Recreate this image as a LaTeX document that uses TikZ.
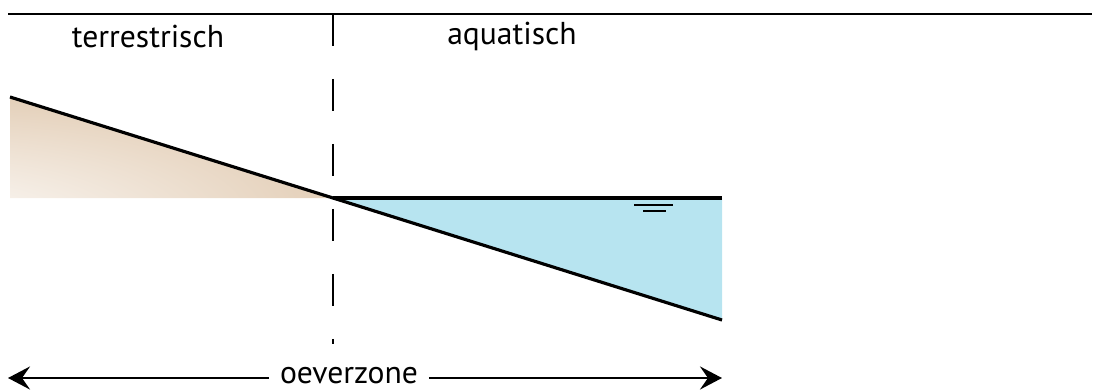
\documentclass[tikz,border=0pt]{standalone}
\usepackage{fontspec}
\setmainfont{PT Sans}
\usetikzlibrary{arrows.meta,positioning}
\definecolor{soilfill}{RGB}{219,192,162}
\definecolor{waterfill}{RGB}{183,228,240}
\pgfdeclareradialshading{soilfade}{\pgfpoint{-50bp}{-50bp}}{%
  color(0bp)=(white); color(8bp)=(white); color(72bp)=(soilfill); color(150bp)=(soilfill)}
\tikzset{
  profile/.style={line width=1.8pt},
  zonelabel/.style={font=\fontsize{18}{20}\selectfont, inner sep=1pt},
  span/.style={-{Stealth[length=4.4mm,width=4.6mm,inset=1.6mm]}, line width=1.7pt}
}
\begin{document}
\begin{tikzpicture}[x=0.02cm, y=-0.02cm]
  \useasboundingbox (0,0) rectangle (1093,392);

  % points of the bank profile
  \coordinate (bankTop) at (10,97);
  \coordinate (bankFoot) at (10,198);
  \coordinate (shore) at (333,198);
  \coordinate (waterEnd) at (722,198);
  \coordinate (bedEnd) at (722,320);

  % fills
  \shade[shading=soilfade] (bankTop) -- (shore) -- (bankFoot) -- cycle;
  \fill[waterfill] (shore) -- (waterEnd) -- (bedEnd) -- cycle;

  % top rule
  \coordinate (ruleL) at (8,14);
  \coordinate (ruleM) at (722,14);
  \coordinate (ruleR) at (1092,14);
  \draw[line width=0.8pt] (ruleL) -- (ruleM);
  \draw[line width=1.6pt] (ruleM) -- (ruleR);

  % divider
  \coordinate (divTop) at (333,14);
  \coordinate (divBot) at (333,344);
  \draw[line width=1.7pt, dash pattern=on 0.64cm off 0.66cm] (divTop) -- (divBot);

  % profile and water surface
  \draw[profile] (bankTop) -- (shore) -- (bedEnd);
  \draw[profile] (shore) -- (waterEnd);

  % water level symbol
  \coordinate (lvlA) at (634,205);
  \coordinate (lvlB) at (673,205);
  \coordinate (lvlC) at (643,211);
  \coordinate (lvlD) at (666,211);
  \draw[line width=1.5pt] (lvlA) -- (lvlB);
  \draw[line width=1.5pt] (lvlC) -- (lvlD);

  % labels
  \node[zonelabel] (terr) at (148,36) {terrestrisch};
  \node[zonelabel] (aqua) at (512,36) {aquatisch};

  % bank zone span
  \coordinate (spanL) at (8,378);
  \coordinate (spanR) at (722,378);
  \node[zonelabel, fill=white, inner xsep=6pt] (oever) at (349,376) {oeverzone};
  \draw[span] (oever.west |- spanL) -- (spanL);
  \draw[span] (oever.east |- spanR) -- (spanR);
\end{tikzpicture}
\end{document}
